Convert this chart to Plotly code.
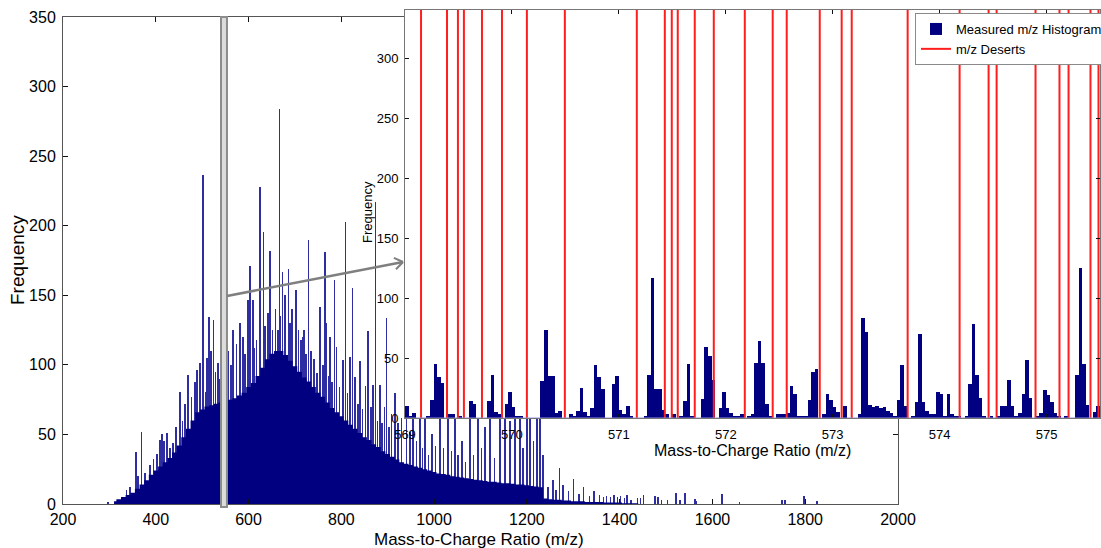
import plotly.graph_objects as go

W, H = 1101, 548
FONT = "Liberation Sans, Arial, Helvetica, sans-serif"
NAVY = "#000080"

# ---- full-range m/z histogram -------------------------------------------
# body of the distribution, 10 m/z wide bins centred on env_mz
env_mz = list(range(310, 1450, 10))
env_counts = [
    2, 3.5, 5, 6.5, 8, 11, 14, 17, 21, 24,            # 310-400
    27, 30, 33, 37, 42, 48, 54, 60, 66, 68,           # 410-500
    70, 71, 72, 73, 75, 75, 76, 78, 80, 84,           # 510-600
    87, 92, 98, 104, 108, 110, 110, 107, 103, 99,     # 610-700
    95, 91, 88, 84, 80, 77, 73, 69, 66, 63,           # 710-800
    60, 57, 54, 51, 48, 46, 43, 41, 38, 36,           # 810-900
    34, 32, 30, 29, 28, 27, 26, 25, 24, 23,           # 910-1000
    22, 21.5, 21, 20, 19.5, 19, 18.5, 18, 17.5, 17,   # 1010-1100
    16.5, 16, 16, 15.5, 15, 15, 14.5, 14, 14, 13.5,   # 1110-1200
    13, 12.5, 12, 4, 3.5, 3, 3, 2.5, 2.5, 2,          # 1210-1300
    2, 2, 1.5, 1.5, 1.5, 1.5, 1, 1, 1, 1,             # 1310-1400
    0.5, 0.5, 0.5, 0.5,                               # 1410-1440
]

# individual narrow peaks standing above the body
spike_mz = [
    297, 337, 345, 357, 362, 369.6, 377, 388, 395, 403, 409, 413, 418, 424,
    431, 437, 444, 452, 458, 463, 470, 477, 484, 489, 495, 502, 507.6, 510,
    514.7, 519, 524, 529, 534, 539, 550.7, 557, 562, 567, 574, 581.6, 588,
    592, 599, 603, 609, 613, 617.6, 624.7, 631.8, 636, 642, 646, 652, 658,
    664, 666.3, 669, 673.5, 678, 685.7, 689, 694, 702.3, 708, 713, 717, 720,
    724, 728.8, 735, 741, 747, 754, 760, 764.8, 768, 772, 775.6, 780, 785,
    790, 796, 804, 809.4, 813, 818.7, 824.4, 830, 836, 840, 846, 852, 858,
    864, 868, 874, 878, 883, 888, 893, 897.8, 903, 908, 915.7, 922, 930,
    940, 948, 955, 962, 969.6, 975, 980, 988, 995, 1003, 1012.7, 1020, 1030,
    1037, 1045, 1052, 1060, 1068, 1077, 1085, 1094.6, 1102, 1109.7, 1120,
    1130, 1142, 1152.8, 1163.6, 1174, 1185, 1192, 1200, 1206.7, 1214,
    1221.8, 1228, 1235, 1245, 1256, 1263, 1270, 1278, 1290, 1300, 1312,
    1322, 1335, 1345, 1357, 1365, 1372, 1380, 1388, 1395, 1402, 1410, 1416,
    1425, 1438, 1445, 1451, 1476, 1483, 1490, 1503, 1521, 1530, 1541, 1562,
    1566, 1621, 1658, 1750, 1756, 1797, 1825,
]
spike_counts = [
    1.5, 10, 12, 37.6, 20, 52, 22, 28, 32, 36, 46, 50, 45, 51,
    40, 44, 55, 80.7, 60, 72, 92.7, 77, 88, 96, 101, 236.5, 80.7, 105,
    134.6, 110, 132, 95, 101, 90, 122.6, 110, 100, 125, 115, 130, 120,
    108, 146.6, 171, 146.6, 112, 118, 228, 195.5, 128, 137, 181.8, 125, 140,
    125, 283.7, 135, 166.5, 150, 169, 130, 140, 153.8, 125, 118, 120, 125,
    108, 189.7, 110, 104, 94, 141.8, 100, 181, 130, 92, 120, 88, 161,
    113, 84, 103.5, 203, 80, 106, 155.5, 91.5, 72, 103, 68, 85, 124,
    70, 85.5, 217, 60, 85.5, 58, 70, 134, 55, 65, 79.5, 58, 62,
    65, 52, 70, 45, 80, 40, 75, 35, 50, 42, 90, 40, 70,
    38, 80, 35, 45, 30, 75, 35, 70, 40, 55, 80,
    33, 65, 70, 60, 75, 90, 40, 85, 70, 45,
    80, 75, 35, 12, 17, 10, 26, 14, 9, 18, 7,
    12, 6, 9, 6.5, 5, 6, 5, 6.5, 5, 6, 4, 6.5,
    3, 4, 4, 6.5, 5.7, 5, 3, 3, 8, 3, 7.7, 3.6,
    2.5, 7, 1.5, 3, 3, 6, 2,
]

# ---- zoomed histogram, 569-575.5 m/z ------------------------------------
inset_start = 569.0
inset_bin = 1 / 30
inset_counts = [
    10, 2, 4, 0, 0, 0, 1, 15, 45, 34,            # 0-9
    29, 0, 3, 3, 0, 2, 0, 0, 14, 12,             # 10-19
    0, 0, 0, 14, 36, 5, 3, 0, 12, 22,            # 20-29
    9, 2, 1, 0, 0, 0, 0, 0, 31, 73,              # 30-39
    35, 35, 4, 6, 0, 0, 3, 2, 6, 25,             # 40-49
    5, 1, 8, 44, 34, 24, 0, 0, 28, 35,           # 50-59
    7, 3, 10, 2, 0, 0, 0, 1, 36, 117,            # 60-69
    24, 24, 7, 3, 0, 3, 0, 2, 14, 45,            # 70-79
    2, 0, 0, 16, 59, 52, 32, 0, 8, 22,           # 80-89
    8, 4, 2, 2, 3, 0, 2, 3, 46, 64,              # 90-99
    46, 12, 2, 0, 3, 3, 3, 4, 27, 20,            # 100-109
    1, 1, 1, 15, 38, 41, 0, 3, 20, 15,           # 110-119
    9, 5, 0, 10, 0, 0, 0, 3, 83, 72,             # 120-129
    11, 9, 10, 8, 9, 5.5, 4, 2, 15, 44,          # 130-139
    10, 0, 2, 13, 70, 13, 6, 3, 3, 22,           # 140-149
    20, 2, 20, 3, 1, 1, 0, 1, 28, 78,            # 150-159
    36, 17, 2, 0, 1, 0, 1, 10, 10, 32,           # 160-169
    10, 2, 4, 20, 48, 17, 0, 2, 4, 23,           # 170-179
    19, 13, 4, 1, 0, 1, 0, 0, 36, 125,           # 180-189
    45, 11, 0, 5, 10,                            # 190-194
]
inset_mz = [inset_start + (i + 0.5) * inset_bin for i in range(len(inset_counts))]

# m/z deserts (regions where no peptide mass can fall)
desert_mz = [
    569.150, 569.393, 569.495, 569.551, 569.720, 569.907, 570.140, 570.495,
    571.168, 571.430, 571.495, 571.551, 571.710, 571.888, 572.178, 572.439,
    572.570, 572.879, 573.084, 573.178, 573.701, 574.187, 574.458, 574.533,
    574.897, 575.121, 575.206, 575.411, 575.486,
]

main_xticks = list(range(200, 2001, 200))
main_yticks = list(range(0, 351, 50))
inset_xticks = list(range(569, 576))
inset_yticks = list(range(0, 301, 50))


def px(x):
    return x / W


def py(y):
    return 1 - y / H


desert_x, desert_y = [], []
for d in desert_mz:
    desert_x += [d, d, None]
    desert_y += [0, 340, None]

fig = go.Figure()
# narrow peaks first, the solid body is painted over their lower part
fig.add_trace(go.Bar(x=spike_mz, y=spike_counts, width=1.2, marker=dict(color="#2e2ea2", line_width=0),
                     xaxis="x", yaxis="y", showlegend=False, hoverinfo="skip"))
fig.add_trace(go.Scatter(x=env_mz, y=env_counts, mode="lines", line=dict(shape="hvh", width=0, color=NAVY),
                         fill="tozeroy", fillcolor=NAVY, xaxis="x", yaxis="y",
                         showlegend=False, hoverinfo="skip"))
fig.add_trace(go.Bar(x=inset_mz, y=inset_counts, width=inset_bin, marker=dict(color=NAVY, line_width=0),
                     xaxis="x2", yaxis="y2", name="Measured m/z Histogram"))
fig.add_trace(go.Scatter(x=desert_x, y=desert_y, mode="lines", line=dict(color="#ff1e1e", width=2),
                         xaxis="x2", yaxis="y2", name="m/z Deserts"))

axis_common = dict(showgrid=False, zeroline=False, showline=True, mirror="ticks",
                   ticks="inside", tickcolor="#111", linewidth=1, automargin=False)

fig.update_layout(
    width=W, height=H, margin=dict(l=0, r=0, t=0, b=0, autoexpand=False),
    paper_bgcolor="white", plot_bgcolor="white",
    barmode="overlay", bargap=0,
    font=dict(family=FONT, color="black"),
    xaxis=dict(domain=[px(63), px(898)], range=[200, 2000], tickvals=main_xticks,
               ticklen=5, linecolor="#555", tickfont=dict(size=16), anchor="y",
               ticklabelstandoff=1, **axis_common),
    yaxis=dict(domain=[py(504), py(17)], range=[0, 350], tickvals=main_yticks,
               ticklen=5, linecolor="#555", tickfont=dict(size=16), anchor="x",
               ticklabelstandoff=3, **axis_common),
    xaxis2=dict(domain=[px(405), px(1100)], range=[569, 575.5], tickvals=inset_xticks,
                ticklen=4, linecolor="#777", tickfont=dict(size=13), anchor="y2",
                ticklabelstandoff=4, **axis_common),
    yaxis2=dict(domain=[py(418), py(10)], range=[0, 340], tickvals=inset_yticks,
                ticklen=4, linecolor="#777", tickfont=dict(size=13), anchor="x2",
                ticklabelstandoff=3, **axis_common),
    legend=dict(x=px(915), y=py(13), xanchor="left", yanchor="top", bgcolor="white",
                bordercolor="#8a8a8a", borderwidth=1, font=dict(size=13), tracegroupgap=0),
)

# zoom callout: band on the overview and arrow pointing to the inset
fig.add_shape(type="rect", xref="x", yref="paper", x0=540.6, x1=553.5, y0=py(507), y1=py(17),
              line=dict(color="#8c8c8c", width=2), fillcolor="#dcdcdc", layer="above")
fig.add_shape(type="line", xref="paper", yref="paper", x0=px(227), y0=py(296), x1=px(403), y1=py(262),
              line=dict(color="#7f7f7f", width=2.5))
fig.add_shape(type="line", xref="paper", yref="paper", x0=px(393.9), y0=py(257.9), x1=px(403), y1=py(262),
              line=dict(color="#7f7f7f", width=2))
fig.add_shape(type="line", xref="paper", yref="paper", x0=px(396.0), y0=py(269.2), x1=px(403), y1=py(262),
              line=dict(color="#7f7f7f", width=2))
# histogram baseline inside the inset
fig.add_shape(type="line", xref="x2", yref="y2", x0=569, x1=575.5, y0=0, y1=0,
              line=dict(color="#9090e0", width=1))

titles = [
    ("Frequency", 17, 260, 19, -90),
    ("Mass-to-Charge Ratio (m/z)", 479, 539, 17, 0),
    ("Frequency", 367, 212, 13, -90),
    ("Mass-to-Charge Ratio (m/z)", 752, 450, 16, 0),
]
for text, x, y, size, angle in titles:
    fig.add_annotation(text=text, xref="paper", yref="paper", x=px(x), y=py(y),
                       xanchor="center", yanchor="middle", showarrow=False,
                       textangle=angle, font=dict(size=size, family=FONT, color="black"))

fig.write_html("out.html")
